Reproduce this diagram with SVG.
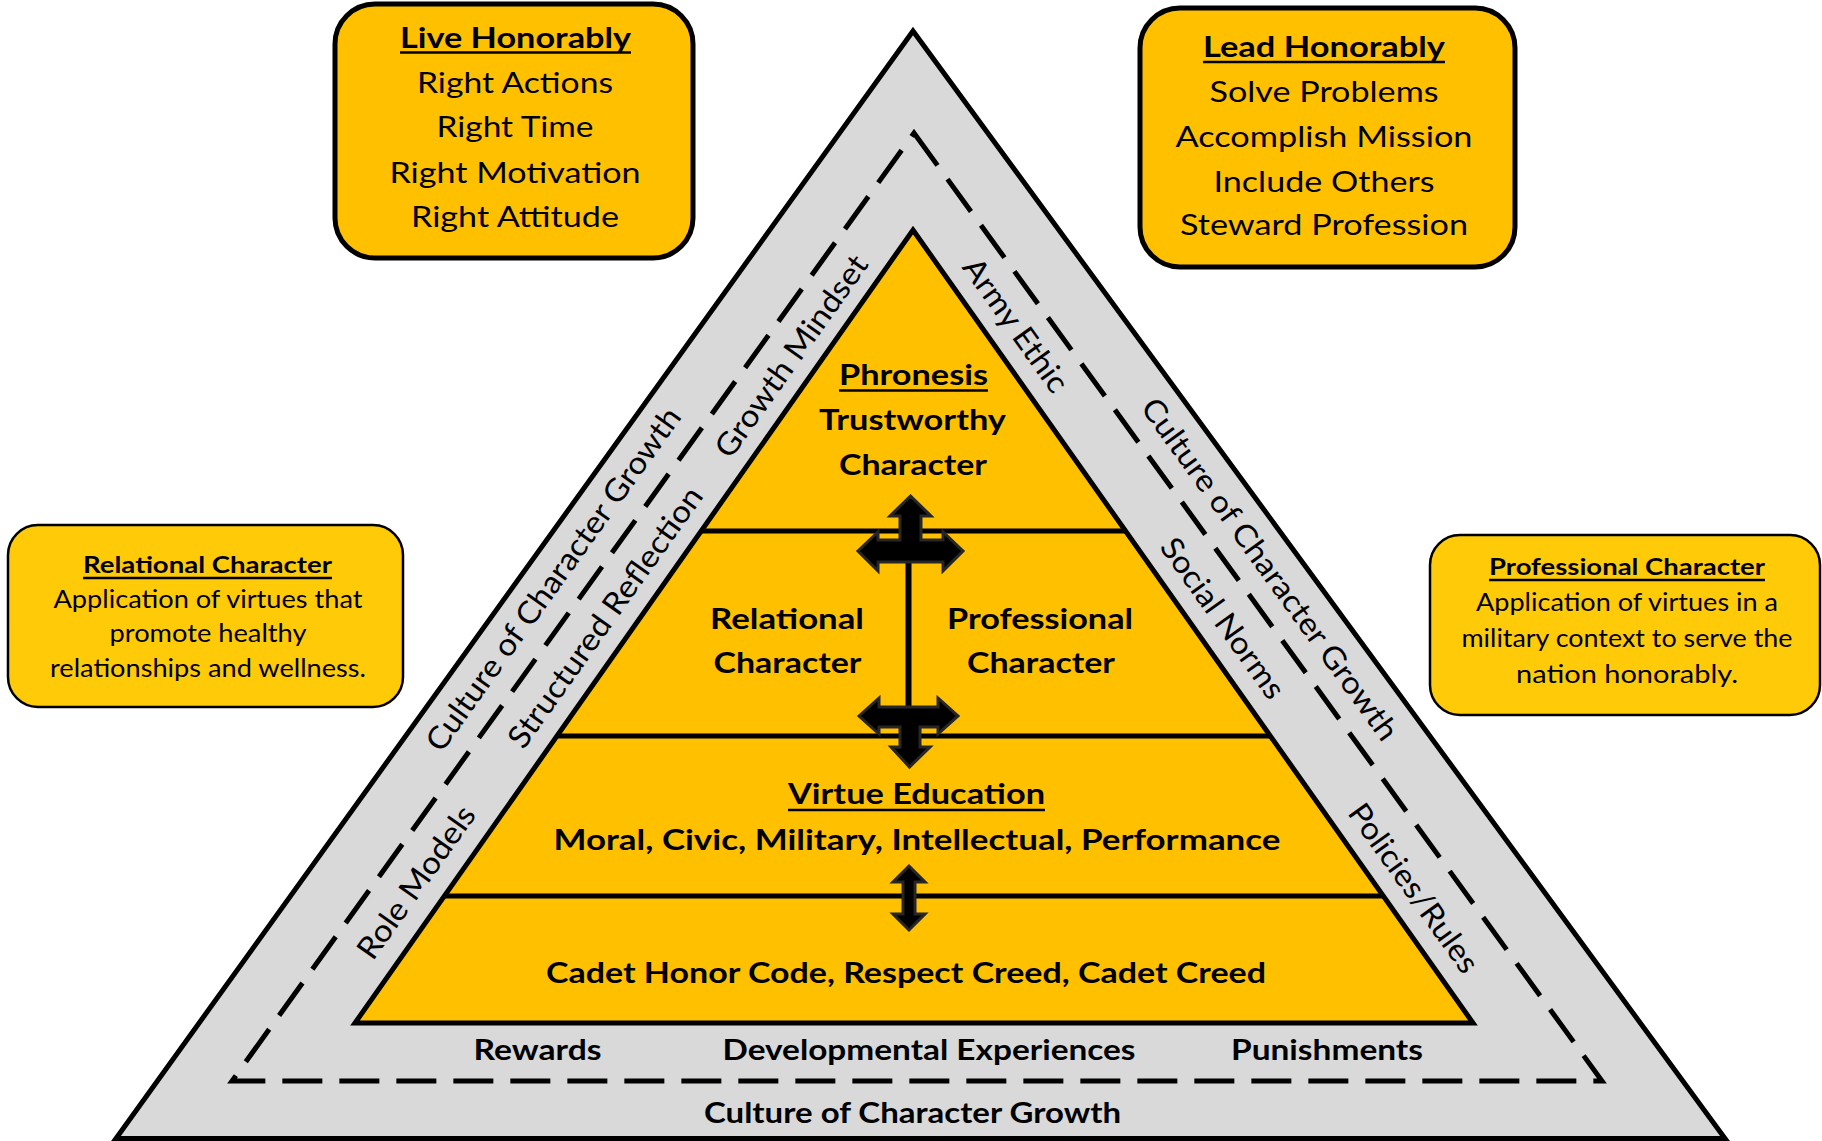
<svg xmlns="http://www.w3.org/2000/svg" width="1822" height="1141" viewBox="0 0 1822 1141">
<defs>
<style>
text{font-family:Lato,"Open Sans","Liberation Sans",sans-serif;fill:#000;}
.b{font-weight:bold;}
.c{text-anchor:middle;}
.box{fill:#FFC000;stroke:#000;stroke-width:5;}
.sbox{fill:#FFCB08;stroke:#000;stroke-width:2.5;}
.ul{stroke:#000;stroke-width:2.5;}
.arrow{fill:#000;stroke:#262626;stroke-width:3;stroke-linejoin:miter;}
.rot{font-size:31px;text-anchor:middle;}
</style>
</defs>
<rect width="1822" height="1141" fill="#FFFFFF"/>

<g id="outer-triangle">
<polygon points="913,31 1725,1138.5 116,1138.5" fill="#D9D9D9" stroke="#000" stroke-width="5" stroke-linejoin="miter"/>
</g>
<g id="dashed-triangle">
<polygon points="914,133 1602,1081 232,1081" fill="none" stroke="#000" stroke-width="5" stroke-dasharray="40 17"/>
</g>

<g id="pyramid">
<polygon points="913,230 1473,1023 355,1023" fill="#FFC000"/>
<line x1="700" y1="531" x2="1126.5" y2="531" stroke="#000" stroke-width="5"/>
<line x1="556" y1="736" x2="1271" y2="736" stroke="#000" stroke-width="5"/>
<line x1="444" y1="896" x2="1383.5" y2="896" stroke="#000" stroke-width="5"/>
<polygon points="913,230 1473,1023 355,1023" fill="none" stroke="#000" stroke-width="5"/>
</g>

<g id="connectors">
<line x1="908.5" y1="560" x2="908.5" y2="709" stroke="#000" stroke-width="6"/>
<path class="arrow" d="M910.5,496 L931,516 L921,516 L921,540 L943,540 L943,532 L963,551 L943,571 L943,562 L878,562 L878,571 L858,551 L878,532 L878,540 L900,540 L900,516 L890,516 Z"/>
<path class="arrow" d="M859,716 L879,698 L879,707 L938,707 L938,698 L958,716 L938,734 L938,727 L920,727 L920,747 L930,747 L909.5,767 L891,747 L900,747 L900,727 L879,727 L879,734 Z"/>
<path class="arrow" d="M909,866 L925,882 L915,882 L915,914 L925,914 L909,930 L893,914 L903,914 L903,882 L893,882 Z"/>
</g>

<g id="node-phronesis">
<text class="b c" x="913.5" y="385" font-size="29" textLength="149" lengthAdjust="spacingAndGlyphs">Phronesis</text>
<line class="ul" x1="839" y1="390.5" x2="988" y2="390.5"/>
<text class="b c" x="912.5" y="430" font-size="29" textLength="187" lengthAdjust="spacingAndGlyphs">Trustworthy</text>
<text class="b c" x="913" y="474.5" font-size="29" textLength="148" lengthAdjust="spacingAndGlyphs">Character</text>
</g>

<g id="node-relational-inner">
<text class="b c" x="787" y="628.5" font-size="29" textLength="154" lengthAdjust="spacingAndGlyphs">Relational</text>
<text class="b c" x="787.5" y="672.5" font-size="29" textLength="148" lengthAdjust="spacingAndGlyphs">Character</text>
</g>

<g id="node-professional-inner">
<text class="b c" x="1040" y="628.5" font-size="29" textLength="186" lengthAdjust="spacingAndGlyphs">Professional</text>
<text class="b c" x="1041" y="673" font-size="29" textLength="148" lengthAdjust="spacingAndGlyphs">Character</text>
</g>

<g id="node-virtue">
<text class="b c" x="916.5" y="804" font-size="29" textLength="257" lengthAdjust="spacingAndGlyphs">Virtue Education</text>
<line class="ul" x1="788" y1="810" x2="1045" y2="810"/>
<text class="b c" x="917" y="849.5" font-size="29" textLength="727" lengthAdjust="spacingAndGlyphs">Moral, Civic, Military, Intellectual, Performance</text>
</g>

<g id="node-cadet">
<text class="b c" x="906" y="983" font-size="29" textLength="720" lengthAdjust="spacingAndGlyphs">Cadet Honor Code, Respect Creed, Cadet Creed</text>
</g>

<g id="bottom-labels">
<text class="b c" x="537.5" y="1060" font-size="29" textLength="128" lengthAdjust="spacingAndGlyphs">Rewards</text>
<text class="b c" x="929" y="1060" font-size="29" textLength="413" lengthAdjust="spacingAndGlyphs">Developmental Experiences</text>
<text class="b c" x="1327" y="1060" font-size="29" textLength="192" lengthAdjust="spacingAndGlyphs">Punishments</text>
<text class="b c" x="912.5" y="1123" font-size="29" textLength="417" lengthAdjust="spacingAndGlyphs">Culture of Character Growth</text>
</g>

<g id="side-labels-left">
<text class="rot" transform="translate(553,579) rotate(-54.4)" y="11" textLength="414" lengthAdjust="spacingAndGlyphs">Culture of Character Growth</text>
<text class="rot" transform="translate(791,356) rotate(-54.6)" y="11" textLength="240" lengthAdjust="spacingAndGlyphs">Growth Mindset</text>
<text class="rot" transform="translate(605,617) rotate(-54.6)" y="11" textLength="312" lengthAdjust="spacingAndGlyphs">Structured Reflection</text>
<text class="rot" transform="translate(416,882) rotate(-54.6)" y="11" textLength="180" lengthAdjust="spacingAndGlyphs">Role Models</text>
</g>

<g id="side-labels-right">
<text class="rot" transform="translate(1016,325) rotate(54.4)" y="11" textLength="157" lengthAdjust="spacingAndGlyphs">Army Ethic</text>
<text class="rot" transform="translate(1270,569) rotate(54.1)" y="11" textLength="414" lengthAdjust="spacingAndGlyphs">Culture of Character Growth</text>
<text class="rot" transform="translate(1223,618) rotate(54.4)" y="11" textLength="190" lengthAdjust="spacingAndGlyphs">Social Norms</text>
<text class="rot" transform="translate(1414,888) rotate(54.4)" y="11" textLength="200" lengthAdjust="spacingAndGlyphs">Policies/Rules</text>
</g>

<g id="node-live-honorably">
<rect class="box" x="335" y="4" width="358" height="254" rx="40" ry="40"/>
<text class="b c" x="515.5" y="48" font-size="29" textLength="231" lengthAdjust="spacingAndGlyphs">Live Honorably</text>
<line class="ul" x1="400" y1="52.5" x2="631" y2="52.5"/>
<text class="c" x="515" y="93" font-size="29" textLength="196" lengthAdjust="spacingAndGlyphs">Right Actions</text>
<text class="c" x="515" y="137" font-size="29" textLength="157" lengthAdjust="spacingAndGlyphs">Right Time</text>
<text class="c" x="515" y="183" font-size="29" textLength="251" lengthAdjust="spacingAndGlyphs">Right Motivation</text>
<text class="c" x="515" y="227" font-size="29" textLength="208" lengthAdjust="spacingAndGlyphs">Right Attitude</text>
</g>

<g id="node-lead-honorably">
<rect class="box" x="1140" y="8" width="375" height="259" rx="40" ry="40"/>
<text class="b c" x="1324" y="57" font-size="29" textLength="242" lengthAdjust="spacingAndGlyphs">Lead Honorably</text>
<line class="ul" x1="1203" y1="62" x2="1445" y2="62"/>
<text class="c" x="1324" y="102" font-size="29" textLength="229" lengthAdjust="spacingAndGlyphs">Solve Problems</text>
<text class="c" x="1324" y="147" font-size="29" textLength="297" lengthAdjust="spacingAndGlyphs">Accomplish Mission</text>
<text class="c" x="1324" y="192" font-size="29" textLength="221" lengthAdjust="spacingAndGlyphs">Include Others</text>
<text class="c" x="1324" y="235" font-size="29" textLength="288" lengthAdjust="spacingAndGlyphs">Steward Profession</text>
</g>

<g id="node-relational-character">
<rect class="sbox" x="8" y="525" width="395" height="182" rx="30" ry="30"/>
<text class="b c" x="207.5" y="573" font-size="23" textLength="249" lengthAdjust="spacingAndGlyphs">Relational Character</text>
<line class="ul" x1="83" y1="578" x2="332" y2="578" stroke-width="2"/>
<text class="c" x="208" y="608" font-size="25" textLength="309" lengthAdjust="spacingAndGlyphs">Application of virtues that</text>
<text class="c" x="208" y="642" font-size="25" textLength="197" lengthAdjust="spacingAndGlyphs">promote healthy</text>
<text class="c" x="208" y="677" font-size="25" textLength="316" lengthAdjust="spacingAndGlyphs">relationships and wellness.</text>
</g>

<g id="node-professional-character">
<rect class="sbox" x="1430" y="535" width="390" height="180" rx="30" ry="30"/>
<text class="b c" x="1627" y="575" font-size="23" textLength="276" lengthAdjust="spacingAndGlyphs">Professional Character</text>
<line class="ul" x1="1489" y1="580" x2="1765" y2="580" stroke-width="2"/>
<text class="c" x="1627" y="611" font-size="25" textLength="302" lengthAdjust="spacingAndGlyphs">Application of virtues in a</text>
<text class="c" x="1627" y="647" font-size="25" textLength="331" lengthAdjust="spacingAndGlyphs">military context to serve the</text>
<text class="c" x="1627" y="683" font-size="25" textLength="222" lengthAdjust="spacingAndGlyphs">nation honorably.</text>
</g>
</svg>
